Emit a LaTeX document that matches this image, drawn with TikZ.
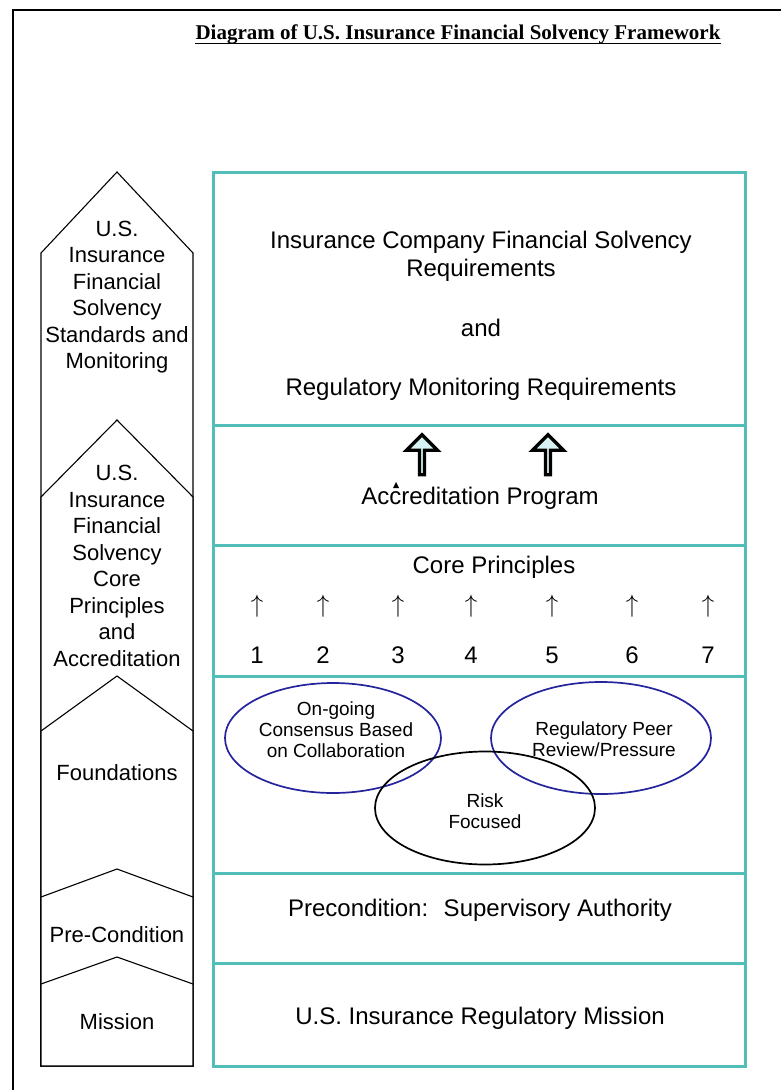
\documentclass[tikz,border=0pt]{standalone}
\usepackage{fontspec}
\setmainfont{Liberation Sans}
\newfontfamily\titlefont{Liberation Serif}
\usetikzlibrary{shapes.geometric,shapes.arrows,positioning}
\definecolor{layerteal}{RGB}{82,190,184}
\definecolor{ovalblue}{RGB}{36,36,156}
\definecolor{arrowfill}{RGB}{214,242,242}
\tikzstyle{layer} = [draw=layerteal, line width=3pt, minimum width=532pt, inner sep=0pt, outer sep=0pt, anchor=north]
\tikzstyle{tagshape} = [draw=black, fill=white, line width=1.1pt]
\tikzstyle{tagtext} = [align=center, inner sep=0pt, font=\fontsize{22}{26.5}\selectfont]
\tikzstyle{boxtext} = [align=center, inner sep=0pt, font=\fontsize{24}{28}\selectfont]
\tikzstyle{ovaltext} = [align=center, inner sep=0pt, font=\fontsize{19}{21}\selectfont]
\tikzstyle{oval} = [ellipse, draw=ovalblue, line width=1.7pt, inner sep=0pt]
\tikzstyle{hollow} = [single arrow, draw=black, fill=arrowfill, line width=3.4pt, rotate=90, minimum height=40pt, minimum width=31pt, single arrow head extend=9pt, inner sep=0pt]
\tikzstyle{upmark} = [inner sep=0pt, font=\fontsize{30}{30}\selectfont]
\newcommand{\layer}[2]{node (b#1) [layer, minimum height=#2] {}}
\newcommand{\pennant}[2]{\filldraw[tagshape] (41,1066) -- (41,#2) -- (117,#1) -- (193,#2) -- (193,1066) -- cycle;}
\newcommand{\principle}[2]{%
\node (u#1) [upmark] at (#2,606) {$\uparrow$};
\node (n#1) [boxtext] at (#2,655) {#1};}

\begin{document}
\begin{tikzpicture}[x=1pt,y=-1pt]
\useasboundingbox (0,0) rectangle (781,1090);
% Outer frame, cut by the page
\draw[line width=1.6pt] (13,1100) -- (13,10) -- (800,10);
\node (title) [inner sep=0pt, anchor=base, font=\fontsize{21}{24}\titlefont\bfseries] at (458,39) {Diagram of U.S. Insurance Financial Solvency Framework};
\draw[line width=1.2pt] ([yshift=-4.5pt]title.base west) -- ([yshift=-4.5pt]title.base east);

% Layers on the right
\path (479,172) \layer{1}{253pt};
\path (b1.south) \layer{2}{120pt};
\path (b2.south) \layer{3}{131pt};
\path (b3.south) \layer{4}{197pt};
\path (b4.south) \layer{5}{90pt};
\path (b5.south) \layer{6}{103pt};

% Tags on the left
\pennant{172}{253}
\pennant{420}{497}
\pennant{676}{731}
\pennant{869}{897}
\pennant{957}{984}
\node (l1) [tagtext] at (117,297) {U.S.\\Insurance\\Financial\\Solvency\\Standards and\\Monitoring};
\node (l2) [tagtext] at (117,566) {U.S.\\Insurance\\Financial\\Solvency\\Core\\Principles\\and\\Accreditation};
\node (l3) [tagtext] at (117,773) {Foundations};
\node (l4) [tagtext] at (117,935) {Pre-Condition};
\node (l5) [tagtext] at (117,1022) {Mission};

% Texts in the layers
\node (t1) [boxtext] at (481,316) {Insurance Company Financial Solvency\\Requirements\\[32pt]and\\[31pt]Regulatory Monitoring Requirements};
\node (up1) [hollow] at (422,456) {};
\node (up2) [hollow] at (548,456) {};
\node (t2) [boxtext] at (480,498) {Accreditation Program};
\fill (393,488) -- (399,488) -- (396,482) -- cycle;
\node (t3) [boxtext] at (494,567) {Core Principles};
\principle{1}{257}
\principle{2}{323}
\principle{3}{398}
\principle{4}{471}
\principle{5}{552}
\principle{6}{632}
\principle{7}{708}

% Foundations
\node (e1) [oval, minimum width=216pt, minimum height=110pt] at (333,738) {};
\node (e2) [oval, minimum width=220pt, minimum height=112pt] at (601,738) {};
\node (e3) [oval, draw=black, minimum width=220pt, minimum height=113pt] at (485,808) {};
\node (o1) [ovaltext] at (336,730) {On-going\\Consensus Based\\on Collaboration};
\node (o2) [ovaltext] at (604,739) {Regulatory Peer\\Review/Pressure};
\node (o3) [ovaltext] at (485,811) {Risk\\Focused};

\node (t5) [boxtext] at (480,910) {Precondition:~ Supervisory Authority};
\node (t6) [boxtext] at (480,1018) {U.S. Insurance Regulatory Mission};
\end{tikzpicture}
\end{document}
